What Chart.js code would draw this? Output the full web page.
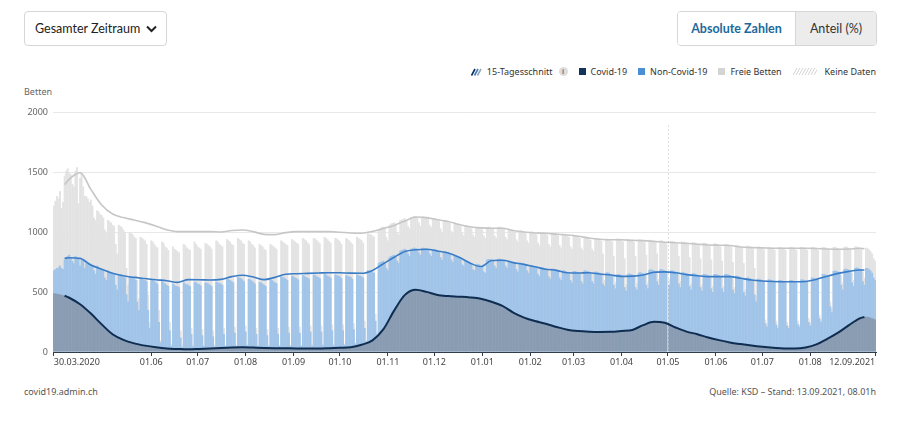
<!DOCTYPE html>
<html lang="de">
<head>
<meta charset="utf-8">
<title>Intensivbetten</title>
<script src="https://cdn.jsdelivr.net/npm/chart.js@4.4.1/dist/chart.umd.min.js"></script>
<style>
  html, body { margin: 0; padding: 0; background: #fff; }
  body {
    width: 900px; height: 422px; position: relative; overflow: hidden;
    font-family: "Noto Sans", Arial, sans-serif; color: #333;
  }
  .zeitraum {
    position: absolute; left: 24px; top: 11px; width: 143px; height: 35px;
    box-sizing: border-box; border: 1px solid #d6d6d6; border-radius: 4px;
    font-family: Lato, "Noto Sans", sans-serif;
    font-size: 12.5px; color: #222; line-height: 33px; padding-left: 10px;
  }
  .zeitraum svg { position: absolute; right: 9px; top: 13px; }
  .umschalter {
    position: absolute; left: 677px; top: 11px; height: 35px; display: flex;
    box-sizing: border-box; border: 1px solid #d6d6d6; border-radius: 4px; overflow: hidden;
    font-family: Lato, "Noto Sans", sans-serif; font-size: 12.5px;
  }
  .umschalter div { line-height: 33px; text-align: center; }
  .umschalter .aktiv { width: 117px; color: #1b6a9b; font-weight: 700; background: #fff; border-right: 1px solid #d6d6d6; }
  .umschalter .inaktiv { width: 80px; color: #333; background: #ececec; }
  .legende {
    position: absolute; right: 24px; top: 65px; display: flex; align-items: center;
    font-size: 9px; color: #333; white-space: nowrap;
  }
  .legende span.item { display: inline-flex; align-items: center; margin-left: 11px; }
  .legende .quadrat { width: 7px; height: 7px; margin-right: 5px; display: inline-block; }
  .legende .info {
    display: inline-block; width: 9px; height: 9px; border-radius: 50%; background: #ddd;
    color: #777; font-size: 7px; line-height: 9px; text-align: center; margin-left: 6px; font-weight: 700;
  }
  .betten { position: absolute; left: 24px; top: 85px; font-size: 9px; color: #666; }
  .quelle-links { position: absolute; left: 24px; top: 385px; font-size: 9px; color: #555; }
  .quelle-rechts { position: absolute; right: 24px; top: 385px; font-size: 9px; color: #555; }
  #wrap { position: absolute; left: 0; top: 100px; width: 900px; height: 274px; }
</style>
</head>
<body>

<div class="zeitraum">Gesamter Zeitraum
  <svg width="11" height="8" viewBox="0 0 11 8"><polyline points="1,1.5 5.5,6 10,1.5" fill="none" stroke="#222" stroke-width="2"/></svg>
</div>

<div class="umschalter">
  <div class="aktiv">Absolute Zahlen</div>
  <div class="inaktiv">Anteil (%)</div>
</div>

<div class="legende">
  <span class="item">
    <svg width="11" height="8" viewBox="0 0 11 8" style="margin-right:5px">
      <line x1="0.5" y1="7.5" x2="4" y2="1" stroke="#0f2d50" stroke-width="1.6"/>
      <line x1="3.5" y1="7.5" x2="7" y2="1" stroke="#3a7dc6" stroke-width="1.6"/>
      <line x1="6.5" y1="7.5" x2="10" y2="1" stroke="#9aa6b4" stroke-width="1.6"/>
    </svg>15-Tagesschnitt<span class="info">i</span>
  </span>
  <span class="item"><span class="quadrat" style="background:#13345a"></span>Covid-19</span>
  <span class="item"><span class="quadrat" style="background:#4a8fd6"></span>Non-Covid-19</span>
  <span class="item"><span class="quadrat" style="background:#d4d4d4"></span>Freie Betten</span>
  <span class="item">
    <svg width="24" height="7" viewBox="0 0 24 7" style="margin-right:8px">
      <g stroke="#c8c8c8" stroke-width="0.8">
        <line x1="0" y1="7" x2="4" y2="0"/><line x1="3" y1="7" x2="7" y2="0"/>
        <line x1="6" y1="7" x2="10" y2="0"/><line x1="9" y1="7" x2="13" y2="0"/>
        <line x1="12" y1="7" x2="16" y2="0"/><line x1="15" y1="7" x2="19" y2="0"/>
        <line x1="18" y1="7" x2="22" y2="0"/><line x1="21" y1="7" x2="25" y2="0"/>
      </g>
    </svg>Keine Daten</span>
</div>

<div class="betten">Betten</div>

<div id="wrap"><canvas id="grafico" width="900" height="274"></canvas></div>

<div class="quelle-links">covid19.admin.ch</div>
<div class="quelle-rechts">Quelle: KSD – Stand: 13.09.2021, 08.01h</div>

<script>
// ACHSE: Tag 0 = 30.03.2020 (Montag), Tag 531 = 12.09.2021
const tickDays = [0, 63, 93, 124, 155, 185, 216, 246, 277, 308, 336, 367, 397, 428, 458, 489, 531];
const tickLabels = ['30.03.2020', '01.06', '01.07', '01.08', '01.09', '01.10', '01.11', '01.12',
  '01.01', '01.02', '01.03', '01.04', '01.05', '01.06', '01.07', '01.08', '12.09.2021'];
const yTicks = [0, 500, 1000, 1500, 2000];
const markerDay = 397; // 01.05.2021

// COVID-19 PATIENTEN PRO TAG (eine Zeile = eine Woche Mo-So)
const covid = [
  490,488,486,483,480,477,473,
  469,464,458,452,446,439,432,
  426,418,409,398,386,375,364,
  353,342,331,320,308,295,282,
  269,256,243,230,217,204,192,
  180,168,158,148,139,130,122,
  115,110,105,101,97,93,89,
  85,80,76,72,69,66,63,
  61,58,56,53,51,48,46,
  44,43,41,39,38,36,35,
  33,32,30,29,28,28,27,
  26,26,25,25,24,24,23,
  22,22,22,22,23,23,23,
  23,24,24,25,25,26,26,
  27,28,28,29,30,30,31,
  32,32,33,34,35,35,36,
  37,37,38,38,39,39,40,
  40,40,40,40,40,39,39,
  39,38,38,37,37,36,36,
  35,35,34,34,34,33,33,
  33,33,32,32,32,32,32,
  32,32,31,31,31,31,31,
  30,30,30,30,30,30,30,
  30,30,30,30,30,30,30,
  30,30,30,30,31,31,31,
  31,31,32,32,32,33,33,
  33,34,34,35,35,36,36,
  37,38,39,40,41,42,43,
  44,49,55,60,65,71,76,
  81,86,92,98,105,114,126,
  140,156,172,188,206,226,250,
  274,298,322,345,368,390,413,
  435,450,464,476,487,496,503,
  509,514,517,519,519,518,516,
  512,509,505,501,497,493,489,
  486,483,480,477,475,473,471,
  469,468,467,466,465,464,463,
  462,462,461,461,460,460,459,
  459,458,457,456,455,454,452,
  450,448,446,444,441,438,435,
  432,428,424,419,414,408,402,
  396,390,384,378,371,364,357,
  350,343,336,329,322,316,310,
  304,298,292,287,281,277,273,
  269,265,262,258,255,252,249,
  246,243,240,236,233,229,225,
  221,217,213,209,205,201,197,
  194,191,188,185,182,180,178,
  176,175,174,173,172,171,170,
  170,169,169,169,168,168,168,
  168,168,167,167,167,167,167,
  167,167,168,168,169,170,171,
  172,173,174,175,176,177,178,
  178,179,181,184,188,193,199,
  205,211,218,224,230,235,240,
  244,247,250,252,253,253,253,
  252,250,247,243,238,0,228,
  222,216,210,204,198,192,187,
  182,178,174,170,166,162,158,
  155,151,148,144,141,138,134,
  131,128,124,121,118,114,111,
  108,105,102,99,96,93,90,
  87,84,82,80,78,76,74,
  72,70,68,66,64,62,60,
  59,57,56,54,53,51,50,
  48,47,45,44,42,41,40,
  39,38,37,36,35,34,33,
  32,31,31,30,30,30,30,
  30,30,30,30,30,31,32,
  33,34,36,38,40,43,46,
  49,53,58,63,69,75,82,
  89,96,103,110,116,122,128,
  135,143,152,161,170,179,188,
  197,206,215,224,233,242,251,
  259,267,274,280,285,289,292,
  294,293,290,286,281,276,270
];

// BELEGTE BETTEN (Covid-19 + Non-Covid-19) PRO TAG
const belegt = [
  680,690,700,705,720,700,690,
  770,790,800,810,790,760,740,
  800,790,780,720,770,760,700,
  760,750,740,735,720,680,650,
  720,710,700,690,680,620,600,
  680,670,660,655,650,560,520,
  650,645,640,630,620,480,420,
  630,625,620,610,600,420,350,
  620,610,600,600,590,350,200,
  610,600,590,580,570,250,80,
  590,580,570,560,550,180,50,
  570,560,550,550,540,120,40,
  580,570,565,560,550,150,45,
  585,580,570,565,555,140,50,
  580,575,570,560,550,130,45,
  585,580,575,570,560,150,50,
  610,605,600,590,580,160,50,
  625,620,615,605,590,170,55,
  610,605,595,585,570,150,50,
  585,580,570,560,550,140,50,
  605,600,590,580,575,150,50,
  630,625,620,610,600,160,50,
  635,630,620,615,605,160,50,
  640,635,625,620,610,170,50,
  645,640,630,625,615,170,55,
  650,645,635,630,620,180,55,
  645,640,635,630,615,180,60,
  640,635,630,625,610,190,70,
  645,640,635,630,620,200,90,
  680,680,675,670,660,260,150,
  740,750,755,760,750,700,680,
  790,800,805,810,800,760,740,
  845,850,855,860,850,820,800,
  860,865,870,865,860,830,810,
  865,870,865,860,855,820,800,
  850,855,850,845,835,790,770,
  835,840,835,830,820,770,750,
  800,805,800,790,780,730,720,
  760,760,755,745,735,690,680,
  730,735,730,720,710,670,660,
  770,775,775,770,760,720,700,
  775,780,775,770,760,720,700,
  760,760,755,750,740,690,670,
  745,745,740,735,725,680,660,
  725,725,720,715,705,650,630,
  705,705,700,695,685,630,610,
  695,695,690,685,675,620,600,
  680,680,675,665,655,600,580,
  675,675,670,665,655,590,570,
  680,680,675,670,660,590,570,
  670,670,665,660,650,570,550,
  660,665,660,650,640,560,530,
  645,650,645,640,630,540,510,
  650,655,650,645,635,540,520,
  660,665,660,655,645,560,530,
  685,690,685,680,670,590,560,
  690,690,685,680,670,0,560,
  680,680,675,670,660,570,540,
  665,665,660,655,645,550,520,
  655,655,650,645,635,540,510,
  650,650,645,640,630,530,500,
  650,650,645,640,630,530,500,
  650,650,645,640,630,520,490,
  635,635,630,625,615,500,470,
  620,620,615,610,600,480,420,
  610,610,605,600,590,240,210,
  605,605,600,595,585,230,200,
  600,600,595,590,580,220,200,
  600,600,595,590,580,230,210,
  605,605,600,595,585,250,220,
  620,620,615,610,600,280,250,
  650,650,645,640,630,380,330,
  675,680,675,670,660,560,520,
  690,695,690,685,675,580,550,
  700,705,700,695,685,590,560,
  700,700,690,680,660,620,600
];

// BETTEN TOTAL (belegt + frei) PRO TAG
const kapazitaet = [
  1220,1260,1300,1280,1340,1200,1250,
  1470,1510,1530,1500,1480,1400,1380,
  1510,1540,1240,1450,1490,1380,1300,
  1300,1280,1250,1270,1220,1120,1100,
  1180,1170,1150,1140,1120,1020,990,
  1100,1090,1080,1060,1050,900,820,
  1060,1050,1040,1020,1000,700,560,
  1000,990,980,960,950,600,450,
  960,950,940,930,900,480,250,
  930,920,900,880,870,350,100,
  920,910,880,870,850,250,70,
  880,860,850,840,830,180,60,
  900,890,870,860,850,200,60,
  920,900,880,870,860,190,60,
  910,900,890,880,860,180,60,
  930,920,900,890,880,200,60,
  940,930,920,900,890,210,60,
  950,940,930,910,900,220,65,
  930,920,900,890,870,200,60,
  900,890,880,860,850,190,60,
  900,890,880,870,860,200,60,
  930,920,910,900,890,210,60,
  940,930,920,910,900,210,60,
  950,940,930,915,900,220,65,
  950,945,935,920,905,220,65,
  960,950,940,925,910,230,65,
  950,945,935,920,900,230,70,
  950,940,930,915,900,240,80,
  960,950,940,930,910,260,100,
  990,985,980,970,960,320,170,
  1020,1030,1040,1045,1040,960,930,
  1060,1070,1075,1080,1070,1000,980,
  1100,1105,1110,1115,1100,1050,1030,
  1125,1130,1135,1130,1120,1080,1050,
  1125,1130,1125,1120,1110,1060,1040,
  1110,1115,1110,1100,1090,1030,1000,
  1095,1100,1095,1085,1075,1010,990,
  1070,1075,1065,1060,1050,990,970,
  1055,1055,1050,1040,1030,980,960,
  1040,1045,1040,1030,1020,970,950,
  1040,1045,1040,1035,1030,970,950,
  1040,1045,1040,1035,1025,960,940,
  1020,1025,1020,1010,1000,940,920,
  1010,1015,1010,1000,990,930,910,
  1000,1005,1000,990,980,910,890,
  995,1000,995,985,975,900,880,
  990,995,990,980,970,890,870,
  985,985,980,970,960,880,860,
  975,975,970,960,950,870,850,
  960,960,955,945,935,860,840,
  950,950,945,935,925,820,600,
  945,945,940,930,920,800,580,
  945,945,940,930,920,780,560,
  940,940,935,925,915,800,570,
  940,940,935,925,915,810,580,
  935,935,930,920,910,820,610,
  930,930,925,915,905,0,610,
  925,925,920,910,900,800,590,
  920,920,915,905,895,790,570,
  915,915,910,900,890,780,560,
  910,910,905,895,885,770,550,
  905,905,900,890,880,760,550,
  900,900,895,885,875,750,540,
  890,890,885,875,865,740,520,
  885,885,880,870,860,700,470,
  880,880,875,865,855,270,230,
  875,875,870,860,850,260,220,
  875,875,870,860,850,250,220,
  875,875,870,860,850,260,230,
  875,875,870,860,850,280,240,
  875,875,870,860,850,310,270,
  875,875,870,860,850,420,360,
  875,875,870,865,855,640,580,
  875,880,875,865,855,660,600,
  880,880,875,865,855,670,620,
  870,865,855,840,820,780,760
];

// 15-TAGESSCHNITT (Stützpunkte)
const avgDays = [7, 10, 17, 24, 31, 38, 45, 52, 59, 66, 73, 80, 87, 94, 101, 108, 115, 122, 129, 136,
  143, 150, 157, 164, 171, 178, 185, 192, 199, 206, 213, 220, 227, 234, 241, 248, 255, 262, 269, 276,
  283, 290, 297, 304, 311, 318, 325, 332, 339, 346, 353, 360, 367, 374, 381, 388, 395, 402, 409, 416,
  423, 430, 437, 444, 451, 458, 465, 472, 479, 486, 493, 500, 507, 514, 521, 524];
const avgCovid = [469, 452, 398, 320, 230, 148, 101, 72, 53, 39, 29, 25, 22, 25, 29, 34, 38, 40, 37, 34,
  32, 31, 30, 30, 30, 32, 35, 39, 60, 97, 188, 345, 476, 519, 501, 475, 466, 461, 455, 444,
  419, 384, 329, 287, 258, 236, 209, 185, 174, 169, 167, 168, 175, 184, 224, 252, 243, 204, 170, 148,
  121, 99, 80, 66, 54, 44, 36, 30, 30, 38, 63, 110, 161, 224, 280, 292];
const avgBelegt = [780, 786, 780, 725, 690, 656, 635, 622, 612, 602, 594, 580, 603, 602, 600, 605, 628, 640, 625, 603,
  622, 648, 652, 655, 658, 661, 660, 657, 656, 680, 735, 790, 838, 852, 856, 842, 825, 790, 742, 712,
  762, 765, 745, 730, 710, 690, 680, 660, 658, 661, 650, 642, 630, 632, 642, 665, 668, 660, 645, 635,
  628, 628, 628, 614, 600, 592, 588, 586, 586, 588, 605, 632, 655, 672, 683, 683];
const avgTotal = [1395, 1440, 1495, 1355, 1225, 1150, 1120, 1100, 1078, 1050, 1018, 1003, 1003, 1003, 1003, 1000, 1012, 1017, 1003, 980,
  978, 995, 1003, 1003, 1003, 1003, 998, 992, 990, 1005, 1030, 1055, 1092, 1125, 1120, 1102, 1088, 1062, 1044, 1034,
  1031, 1031, 1012, 1000, 992, 989, 982, 975, 965, 950, 940, 935, 935, 930, 928, 922, 915, 911, 905, 898,
  892, 890, 888, 875, 870, 868, 864, 864, 864, 864, 862, 858, 856, 858, 864, 860];

const schrift = { family: 'Noto Sans', size: 9 };

// Linie am 01.05.2021
const markerPlugin = {
  id: 'marker',
  afterDatasetsDraw(chart) {
    const { ctx, chartArea, scales } = chart;
    const x = Math.round(scales.x.getPixelForValue(markerDay)) + 0.5;
    ctx.save();
    ctx.strokeStyle = 'rgba(0,0,0,0.12)';
    ctx.lineWidth = 1;
    ctx.setLineDash([2, 2]);
    ctx.beginPath();
    ctx.moveTo(x, chartArea.top + 13);
    ctx.lineTo(x, chartArea.bottom);
    ctx.stroke();
    ctx.restore();
  }
};

const punkte = (tage, werte) => tage.map((d, i) => ({ x: d, y: werte[i] }));
const taeglich = werte => werte.map((v, i) => ({ x: i, y: v }));

const linie = (label, tage, werte, farbe, breite, order) => ({
  type: 'line',
  label,
  data: punkte(tage, werte),
  borderColor: farbe,
  borderWidth: breite,
  pointRadius: 0,
  fill: false,
  cubicInterpolationMode: 'monotone',
  order
});

const balken = (label, werte, farbe, order) => ({
  type: 'bar',
  label,
  data: taeglich(werte),
  backgroundColor: farbe,
  borderWidth: 0,
  grouped: false,
  barPercentage: 1.25,
  categoryPercentage: 1,
  order
});

new Chart(document.getElementById('grafico').getContext('2d'), {
  type: 'bar',
  data: {
    datasets: [
      linie('Covid-19 (15-Tagesschnitt)', avgDays, avgCovid, '#0f2d50', 2, 0),
      linie('Belegt (15-Tagesschnitt)', avgDays, avgBelegt, '#3a7dc6', 1.6, 1),
      linie('Total (15-Tagesschnitt)', avgDays, avgTotal, '#c6c6c6', 1.6, 2),
      balken('Covid-19', covid, '#8a9cb2', 3),
      balken('Non-Covid-19', belegt, '#a1c4e9', 4),
      balken('Freie Betten', kapazitaet, '#e3e3e3', 5)
    ]
  },
  options: {
    responsive: false,
    animation: false,
    devicePixelRatio: 1,
    layout: { padding: { top: 12, right: 24, left: 0, bottom: 0 } },
    plugins: {
      legend: { display: false },
      tooltip: { enabled: false }
    },
    scales: {
      x: {
        type: 'linear',
        min: -0.5,
        max: 531.5,
        bounds: 'data',
        offset: false,
        z: 1,
        grid: { offset: false, drawOnChartArea: false, drawTicks: true, tickLength: 4, color: '#2f3d4d' },
        border: { display: true, color: '#2f3d4d', width: 1 },
        ticks: {
          autoSkip: false,
          maxRotation: 0,
          padding: 1,
          align: 'inner',
          font: schrift,
          color: '#444',
          callback: v => {
            const i = tickDays.indexOf(v);
            return i >= 0 ? tickLabels[i] : '';
          }
        },
        afterBuildTicks: s => { s.ticks = tickDays.map(v => ({ value: v })); },
        afterFit: s => { s.height = 22; }
      },
      y: {
        min: yTicks[0],
        max: yTicks[yTicks.length - 1],
        z: 1,
        grid: { color: 'rgba(0,0,0,0.09)', drawTicks: false },
        border: { display: false },
        ticks: { padding: 5, font: schrift, color: '#666', callback: v => String(v) },
        afterBuildTicks: s => { s.ticks = yTicks.map(v => ({ value: v })); },
        afterFit: s => { s.width = 53; }
      }
    }
  },
  plugins: [markerPlugin]
});
</script>
</body>
</html>
